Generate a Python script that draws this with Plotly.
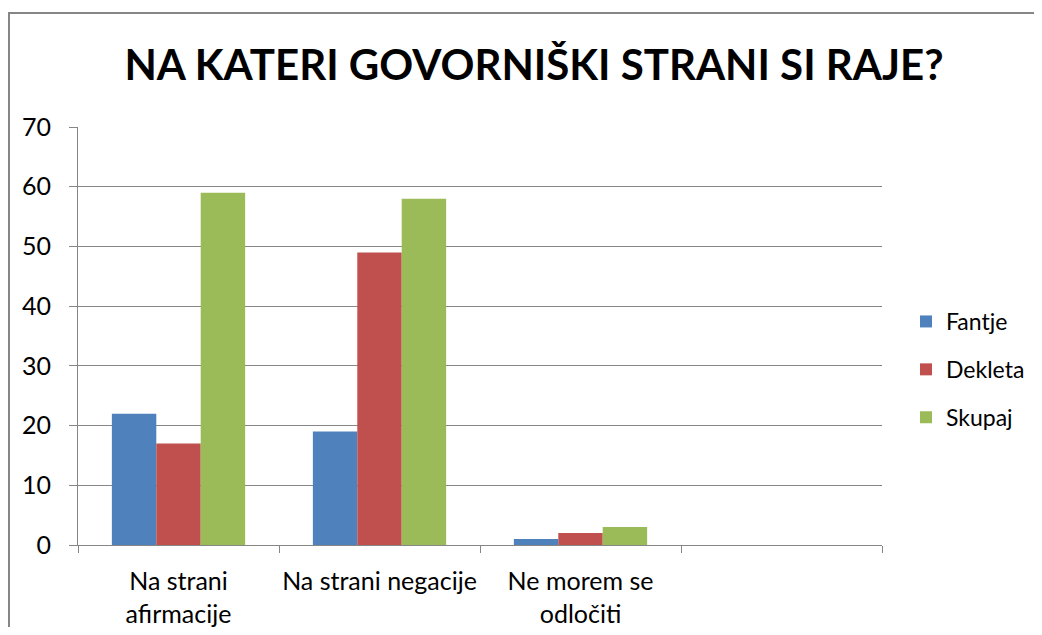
import plotly.graph_objects as go

categories = ["Na strani<br>afirmacije", "Na strani negacije", "Ne morem se<br>odločiti", " "]
fantje = [22, 19, 1, None]
dekleta = [17, 49, 2, None]
skupaj = [59, 58, 3, None]
y_ticks = [0, 10, 20, 30, 40, 50, 60, 70]

FONT = "Lato"
GRAY = "#868686"

# page body margin shifts the figure by 8px
OFF = 8
FIG_W, FIG_H = 1042 - 2 * OFF, 635 - 2 * OFF
# plot area in screenshot pixels: x 78..882, y 127..545
X0, X1, Y0, Y1 = 78, 882, 127, 545
L, R, T, B = X0 - OFF, FIG_W - (X1 - OFF), Y0 - OFF, FIG_H - (Y1 - OFF)
W, H = X1 - X0, Y1 - Y0


def px_x(x):
    return (x - X0) / W


def px_y(y):
    return (Y1 - y) / H


fig = go.Figure()
for name, vals, color in [
    ("Fantje", fantje, "#4F81BD"),
    ("Dekleta", dekleta, "#C0504D"),
    ("Skupaj", skupaj, "#9BBB59"),
]:
    fig.add_trace(go.Bar(
        x=categories, y=vals, name=name, legendgroup=name,
        marker=dict(color=color, line=dict(width=0)),
    ))

fig.update_layout(
    width=FIG_W, height=FIG_H,
    margin=dict(l=L, r=R, t=T, b=B, autoexpand=False),
    paper_bgcolor="white", plot_bgcolor="white",
    font=dict(family=FONT, size=25, color="black"),
    barmode="group", bargap=0.337, bargroupgap=0,
    title=dict(
        text="<b>NA KATERI GOVORNIŠKI STRANI SI RAJE?</b>",
        font=dict(family=FONT, size=42, color="black"),
        x=(534 - OFF) / FIG_W, xanchor="center",
        y=1 - (65 - OFF) / FIG_H, yanchor="middle",
    ),
    showlegend=True,
    legend=dict(
        x=px_x(906), xanchor="left", y=px_y(300), yanchor="top",
        font=dict(family=FONT, size=23), traceorder="grouped",
        tracegroupgap=15, bgcolor="rgba(0,0,0,0)", itemwidth=30,
    ),
    xaxis=dict(
        type="category", range=[-0.5, 3.5], tickson="boundaries",
        showline=True, linecolor=GRAY, linewidth=1,
        ticks="outside", ticklen=7, tickcolor=GRAY,
        showgrid=False, tickfont=dict(family=FONT, size=25),
        ticklabelstandoff=14, tickangle=0, automargin=False,
    ),
    yaxis=dict(
        range=[0, 70], tickvals=y_ticks, showline=True, linecolor=GRAY,
        linewidth=1, ticks="outside", ticklen=8, tickcolor=GRAY,
        showgrid=True, gridcolor=GRAY, gridwidth=1, zeroline=False,
        tickfont=dict(family=FONT, size=25), ticklabelstandoff=13,
        automargin=False,
    ),
    shapes=[dict(
        type="rect", xref="paper", yref="paper",
        x0=px_x(9), y0=px_y(700), x1=px_x(1100), y1=px_y(13),
        line=dict(color=GRAY, width=2), fillcolor="rgba(0,0,0,0)", layer="below",
    )],
)

fig.write_html("out.html")
